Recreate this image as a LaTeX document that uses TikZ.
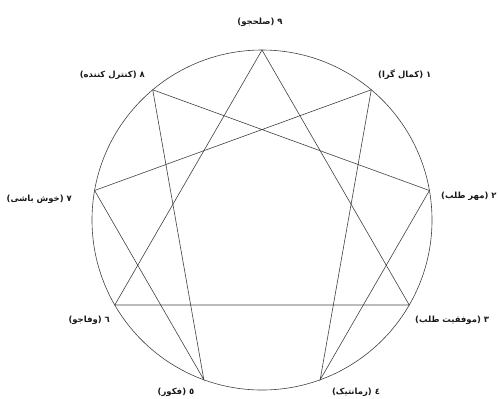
\documentclass[tikz,border=0pt]{standalone}
\usepackage{fontspec}
\usetikzlibrary{calc}
\newfontfamily\arabicfont[Script=Arabic]{DejaVu Sans}
\TeXXeTstate=1
\begin{document}
\begin{tikzpicture}[x=1bp,y=-1bp,
  lbl/.style={font=\arabicfont\bfseries\fontsize{8.5}{10}\selectfont, inner sep=0pt, text=black!90},
  edge/.style={draw=black!75, line width=0.6bp}]
\useasboundingbox (0,0) rectangle (499,398);
\coordinate (c) at (262,220);
\draw[edge] (c) circle[radius=170];
\foreach \i/\n in {0/9,1/1,2/2,3/3,4/4,5/5,6/6,7/7,8/8}
  \coordinate (pt\n) at ($(c)+(40*\i-90:170)$);
\draw[edge] (pt9) -- (pt3) -- (pt6) -- cycle;
\draw[edge] (pt1) -- (pt4) -- (pt2) -- (pt8) -- (pt5) -- (pt7) -- cycle;
\node[lbl] (l9) at (260,22) {\beginR ٩ (صلحجو)\endR};
\node[lbl,anchor=east] (l8) at (145,75) {\beginR ٨ (کنترل کننده)\endR};
\node[lbl,anchor=west] (l1) at (378,75) {\beginR ١ (کمال گرا)\endR};
\node[lbl,anchor=east] (l7) at (72,199) {\beginR ٧ (خوش باشی)\endR};
\node[lbl,anchor=west] (l2) at (441,196) {\beginR ٢ (مهر طلب)\endR};
\node[lbl,anchor=east] (l6) at (110,320) {\beginR ٦ (وفاجو)\endR};
\node[lbl,anchor=west] (l3) at (415,320) {\beginR ٣ (موفقیت طلب)\endR};
\node[lbl] (l5) at (176,392) {\beginR ٥ (فکور)\endR};
\node[lbl] (l4) at (356,392) {\beginR ٤ (رمانتیک)\endR};
\end{tikzpicture}
\end{document}
